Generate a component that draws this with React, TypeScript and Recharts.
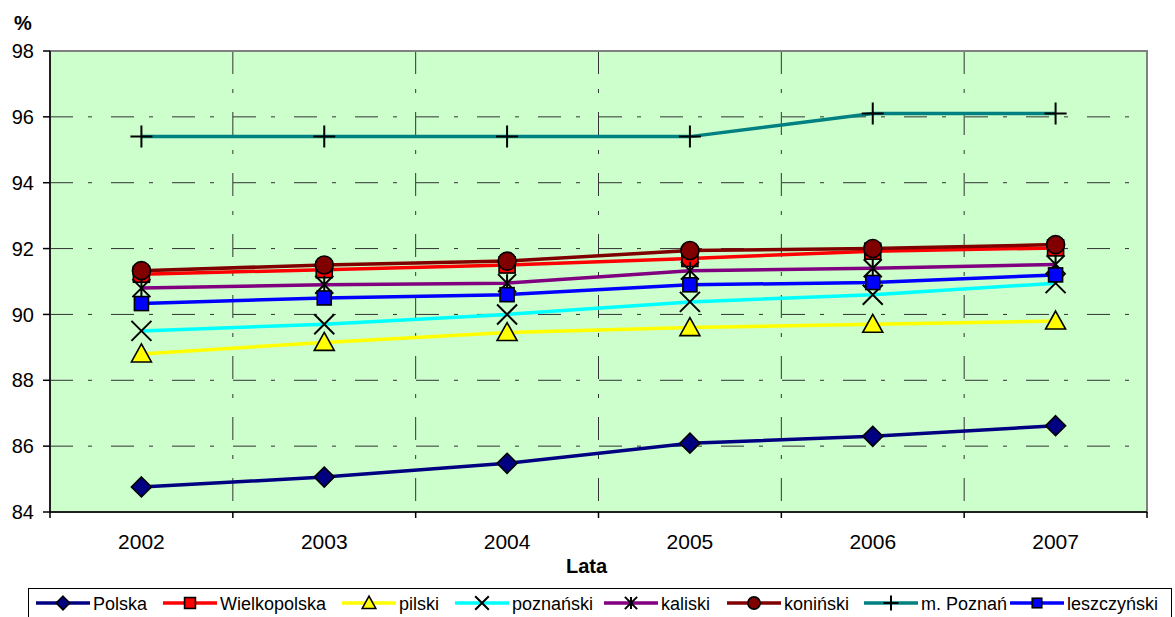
import React from 'react'
import { LineChart, Line, XAxis, YAxis, CartesianGrid, ReferenceArea } from 'recharts'

const years = ['2002', '2003', '2004', '2005', '2006', '2007']
const polska = [84.76, 85.06, 85.48, 86.09, 86.3, 86.62]
const wielkopolska = [91.22, 91.36, 91.5, 91.7, 91.92, 92.02]
const pilski = [88.8, 89.15, 89.45, 89.6, 89.7, 89.8]
const poznanski = [89.5, 89.7, 90.0, 90.38, 90.6, 90.95]
const kaliski = [90.8, 90.9, 90.95, 91.33, 91.4, 91.52]
const koninski = [91.33, 91.5, 91.62, 91.94, 92.0, 92.12]
const mPoznan = [95.4, 95.4, 95.4, 95.4, 96.1, 96.1]
const leszczynski = [90.33, 90.5, 90.6, 90.9, 90.97, 91.2]
const yTicks = [84, 86, 88, 90, 92, 94, 96, 98]

const series = [
  { key: 'polska', name: 'Polska', values: polska },
  { key: 'wielkopolska', name: 'Wielkopolska', values: wielkopolska },
  { key: 'pilski', name: 'pilski', values: pilski },
  { key: 'poznanski', name: 'poznański', values: poznanski },
  { key: 'kaliski', name: 'kaliski', values: kaliski },
  { key: 'koninski', name: 'koniński', values: koninski },
  { key: 'mPoznan', name: 'm. Poznań', values: mPoznan },
  { key: 'leszczynski', name: 'leszczyński', values: leszczynski },
]

// styles, kept apart from the values
const styles: Record<string, { color: string; marker: string; fill: string }> = {
  polska: { color: '#000080', marker: 'diamond', fill: '#000080' },
  wielkopolska: { color: '#FF0000', marker: 'square', fill: '#FF0000' },
  pilski: { color: '#FFFF00', marker: 'triangle', fill: '#FFFF00' },
  poznanski: { color: '#00FFFF', marker: 'x', fill: 'none' },
  kaliski: { color: '#800080', marker: 'star', fill: 'none' },
  koninski: { color: '#800000', marker: 'circle', fill: '#800000' },
  mPoznan: { color: '#008080', marker: 'plus', fill: 'none' },
  leszczynski: { color: '#0000FF', marker: 'smallSquare', fill: '#0000FF' },
}

const data = years.map((year, i) => {
  const row: Record<string, string | number> = { year }
  series.forEach((s) => { row[s.key] = s.values[i] })
  return row
})

const W = 1175
const H = 617
const PLOT_LEFT = 50
const PLOT_RIGHT = 1147
const BAND = (PLOT_RIGHT - PLOT_LEFT) / years.length
const FONT = 'Arial, "Liberation Sans", sans-serif'
const GRID_DASH = '23 15 4 19'

function Marker({ cx, cy, kind, fill, s = 1 }: { cx: number; cy: number; kind: string; fill: string; s?: number }) {
  if (cx == null || cy == null) return null
  const sw = 1.6
  switch (kind) {
    case 'diamond': {
      const r = 10 * s
      return <path d={`M${cx},${cy - r}L${cx + r},${cy}L${cx},${cy + r}L${cx - r},${cy}Z`} fill={fill} stroke="#000" strokeWidth={sw} />
    }
    case 'square': {
      const r = 8 * s
      return <rect x={cx - r} y={cy - r} width={2 * r} height={2 * r} fill={fill} stroke="#000" strokeWidth={sw} />
    }
    case 'smallSquare': {
      const r = 7 * s
      return <rect x={cx - r} y={cy - r} width={2 * r} height={2 * r} fill={fill} stroke="#000" strokeWidth={sw} />
    }
    case 'triangle': {
      const r = 10 * s
      return <path d={`M${cx},${cy - r}L${cx + r},${cy + r * 0.8}L${cx - r},${cy + r * 0.8}Z`} fill={fill} stroke="#000" strokeWidth={sw} />
    }
    case 'circle':
      return <circle cx={cx} cy={cy} r={9 * s} fill={fill} stroke="#000" strokeWidth={sw} />
    case 'x': {
      const r = 10 * s
      return <path d={`M${cx - r},${cy - r}L${cx + r},${cy + r}M${cx - r},${cy + r}L${cx + r},${cy - r}`} stroke="#000" strokeWidth={2} fill="none" />
    }
    case 'star': {
      const r = 9 * s
      return <path d={`M${cx - r},${cy - r}L${cx + r},${cy + r}M${cx - r},${cy + r}L${cx + r},${cy - r}M${cx},${cy - r}L${cx},${cy + r}`} stroke="#000" strokeWidth={2} fill="none" />
    }
    case 'plus': {
      const r = 11 * s
      return <path d={`M${cx - r},${cy}L${cx + r},${cy}M${cx},${cy - r}L${cx},${cy + r}`} stroke="#000" strokeWidth={2} fill="none" />
    }
    default:
      return null
  }
}

function YearTick(props: any) {
  const { x, y, payload, index } = props
  const left = x - BAND / 2
  return (
    <g>
      <line x1={left} x2={left} y1={y} y2={y + 6} stroke="#000" strokeWidth={1.5} />
      {index === years.length - 1 && (
        <line x1={x + BAND / 2} x2={x + BAND / 2} y1={y} y2={y + 6} stroke="#000" strokeWidth={1.5} />
      )}
      <text x={x} y={y + 37} textAnchor="middle" fontSize={21} fontFamily={FONT} fill="#000">
        {payload.value}
      </text>
    </g>
  )
}

// legend item positions (line start x on page)
const legendX = [36, 163, 342, 455, 604, 727, 864, 1010]

function LegendBox() {
  return (
    <svg width={W} height={H} style={{ position: 'absolute', left: 0, top: 0, pointerEvents: 'none' }}>
      <rect x={28.5} y={588.5} width={1143} height={40} fill="#fff" stroke="#000" strokeWidth={1} />
      {series.map((s, i) => {
        const st = styles[s.key]
        const x0 = legendX[i]
        const cy = 603
        return (
          <g key={s.key}>
            <line x1={x0} x2={x0 + 54} y1={cy} y2={cy} stroke={st.color} strokeWidth={3.5} />
            <Marker cx={x0 + 27} cy={cy} kind={st.marker} fill={st.fill} s={0.68} />
            <text x={x0 + 57} y={cy + 6.5} fontSize={18} fontFamily={FONT} fill="#000">{s.name}</text>
          </g>
        )
      })}
    </svg>
  )
}

export default function App() {
  return (
    <div style={{ position: 'absolute', left: 0, top: 0, width: W, height: H, background: '#fff', overflow: 'hidden' }}>
      <LineChart width={W} height={H} data={data} margin={{ top: 51, right: W - PLOT_RIGHT, bottom: 0, left: 0 }}>
        <CartesianGrid
          fill="#CCFFCC"
          fillOpacity={1}
          stroke="#333"
          strokeWidth={1}
          strokeDasharray={GRID_DASH}
          verticalCoordinatesGenerator={({ offset }: any) =>
            [1, 2, 3, 4, 5].map((i) => offset.left + (i * offset.width) / years.length)
          }
        />
        <ReferenceArea y1={84} y2={98} fill="none" stroke="#808080" strokeWidth={2} ifOverflow="visible" />
        <XAxis
          dataKey="year"
          scale="band"
          height={105}
          tickLine={false}
          tickSize={0}
          tickMargin={0}
          axisLine={{ stroke: '#000', strokeWidth: 1.5 }}
          tick={<YearTick />}
          interval={0}
        />
        <YAxis
          type="number"
          domain={[84, 98]}
          ticks={yTicks}
          width={PLOT_LEFT}
          tickSize={7}
          tickMargin={9}
          axisLine={{ stroke: '#000', strokeWidth: 1.5 }}
          tickLine={{ stroke: '#000', strokeWidth: 1.5 }}
          tick={{ fontSize: 20, fontFamily: FONT, fill: '#000' }}
          allowDataOverflow
        />
        {series.map((s) => (
          <Line
            key={s.key}
            dataKey={s.key}
            stroke={styles[s.key].color}
            strokeWidth={3.5}
            dot={false}
            activeDot={false}
            isAnimationActive={false}
          />
        ))}
        {series.map((s) => (
          <Line
            key={s.key + '-m'}
            dataKey={s.key}
            stroke="none"
            legendType="none"
            activeDot={false}
            isAnimationActive={false}
            dot={(p: any) => (
              <Marker key={s.key + p.index} cx={p.cx} cy={p.cy} kind={styles[s.key].marker} fill={styles[s.key].fill} />
            )}
          />
        ))}
      </LineChart>
      <div style={{ position: 'absolute', left: 14, top: 12, fontFamily: FONT, fontWeight: 'bold', fontSize: 20 }}>%</div>
      <div style={{ position: 'absolute', left: 566, top: 555, fontFamily: FONT, fontWeight: 'bold', fontSize: 20 }}>Lata</div>
      <LegendBox />
    </div>
  )
}
